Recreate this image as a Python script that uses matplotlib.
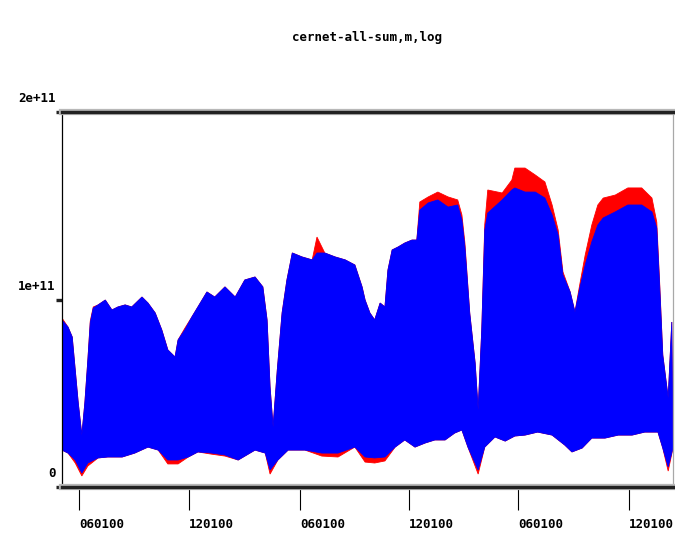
import numpy as np
import matplotlib
matplotlib.use("Agg")
import matplotlib.pyplot as plt
import matplotlib.font_manager as fm
import matplotlib.patheffects as pe
from matplotlib.transforms import ScaledTranslation

# ---------------- data (values in units of 1e9) ----------------
title = "cernet-all-sum,m,log"

# upper envelope sample days
upper_days = [0, 10, 17, 22, 27, 33, 38, 43, 47, 52, 60, 72, 83, 93, 105, 116, 133, 143,
              155, 166, 176, 188, 193, 204, 216, 226, 241, 254, 271, 288, 304, 321, 334,
              341, 346, 351, 358, 366, 374, 383, 399, 416, 424, 437, 454, 471, 487, 499,
              504, 512, 520, 529, 537, 542, 549, 559, 570, 582, 590, 595, 609, 625, 642,
              658, 665, 670, 678, 687, 692, 698, 703, 708, 732, 748, 753, 770, 787, 803,
              815, 825, 833, 845, 853, 861, 870, 881, 891, 900, 920, 941, 964, 981, 989,
              994, 999, 1008, 1014]
# blue (average) upper envelope
blue_high = [89.1, 85.3, 80.0, 62.4, 44.8, 27.7, 44.8, 67.7, 87.5, 95.5, 97.1, 99.7, 94.4,
             96.0, 97.1, 96.0, 101.3, 98.1, 92.8, 83.7, 73.1, 69.3, 78.4, 83.7, 90.7, 96.0,
             104.0, 101.3, 106.7, 101.3, 110.4, 112.0, 106.7, 89.1, 53.3, 32.0, 62.4, 92.8,
             110.4, 124.8, 122.7, 121.1, 124.8, 124.8, 122.7, 121.1, 118.4, 106.7, 99.7,
             92.8, 89.1, 98.1, 96.0, 115.7, 126.4, 128.0, 130.1, 131.7, 131.7, 147.7, 151.5,
             153.1, 149.3, 150.4, 142.4, 128.0, 92.8, 66.1, 41.1, 83.7, 137.1, 146.1, 153.1,
             158.4, 159.5, 157.3, 157.3, 154.1, 145.1, 134.4, 113.1, 104.0, 93.3, 106.1,
             118.4, 130.7, 139.7, 143.5, 146.7, 150.4, 150.4, 146.7, 138.1, 106.1, 70.4,
             47.5, 88.0]
# red (max) upper envelope
red_high = [90.1, 85.3, 80.0, 62.4, 44.8, 27.7, 44.8, 67.7, 88.5, 96.0, 97.1, 99.7, 94.4,
            96.0, 97.1, 96.0, 101.3, 98.1, 92.8, 83.7, 73.1, 69.3, 78.4, 84.5, 90.7, 96.0,
            104.0, 101.3, 106.7, 101.3, 110.4, 112.0, 106.7, 89.1, 53.3, 32.0, 62.4, 92.8,
            110.4, 124.8, 122.7, 121.1, 133.3, 124.8, 122.7, 121.1, 118.4, 106.7, 99.7,
            92.8, 89.1, 98.1, 96.0, 115.7, 126.4, 128.0, 130.1, 131.7, 131.7, 152.0, 154.7,
            157.3, 154.7, 153.1, 145.1, 130.0, 92.8, 66.1, 41.1, 83.7, 140.0, 158.4, 156.8,
            163.7, 170.1, 170.1, 166.4, 162.7, 150.4, 137.1, 114.7, 104.0, 93.3, 108.0,
            123.7, 139.7, 150.4, 154.1, 155.7, 159.5, 159.5, 154.1, 141.3, 107.7, 70.4,
            47.5, 88.0]

# lower envelope sample days
lower_days = [0, 10, 22, 33, 43, 60, 76, 100, 121, 143, 160, 176, 193, 210, 226, 249, 271,
              293, 321, 338, 346, 359, 376, 404, 432, 459, 487, 504, 520, 537, 554, 570, 587,
              604, 620, 637, 653, 665, 675, 692, 703, 720, 737, 753, 770, 791, 815, 836, 848,
              865, 881, 903, 925, 948, 969, 991, 999, 1008, 1016]
blue_low = [19.7, 18.1, 14.4, 7.5, 12.8, 15.5, 16.0, 16.0, 18.1, 21.3, 19.7, 14.4, 14.4,
            16.0, 18.7, 18.1, 17.1, 14.4, 19.7, 18.1, 9.1, 14.4, 19.7, 19.7, 18.1, 18.1,
            21.3, 16.0, 15.5, 16.0, 21.3, 25.1, 21.3, 23.5, 25.1, 25.1, 28.8, 30.4, 21.3,
            9.1, 21.3, 26.7, 24.5, 27.2, 27.7, 29.3, 27.7, 22.4, 18.7, 20.8, 26.1, 26.1,
            27.7, 27.7, 29.3, 29.3, 20.8, 10.7, 20.8]
red_low = [19.7, 18.1, 12.8, 5.9, 11.2, 15.5, 16.0, 16.0, 18.1, 21.3, 19.7, 12.3, 12.3,
           16.0, 18.7, 17.5, 16.5, 14.4, 19.7, 18.1, 6.9, 14.4, 19.7, 19.7, 16.5, 16.0,
           21.3, 13.3, 12.8, 13.9, 21.3, 25.1, 21.3, 23.5, 25.1, 25.1, 28.8, 30.4, 21.3,
           6.9, 21.3, 26.7, 24.5, 27.2, 27.7, 29.3, 27.7, 22.4, 18.7, 20.8, 26.1, 26.1,
           27.7, 27.7, 29.3, 29.3, 20.8, 8.5, 20.8]

tick_days = [28, 211, 396, 577, 758, 943]
tick_labels = ["060100", "120100", "060100", "120100", "060100", "120100"]
ytick_vals = [0, 1e11, 2e11]
ytick_labels = ["0", "1e+11", "2e+11"]

SCALE = 1e9

# ---------------- font ----------------
FONT, FS, FW = "DejaVu Sans Mono", 9, "bold"
plt.rcParams["font.family"] = [FONT, "DejaVu Sans"]

# ---------------- figure ----------------
fig = plt.figure(figsize=(6.75, 5.5), dpi=100)
L, R, B, T = 62 / 675, 673 / 675, (550 - 487) / 550, (550 - 112) / 550
ax = fig.add_axes([L, B, R - L, T - B])

ud = np.array(upper_days, float)
ld = np.array(lower_days, float)
xs = np.concatenate([ud, ld[::-1]])

ax.fill(xs, np.concatenate([np.array(red_high), np.array(red_low)[::-1]]) * SCALE,
        color="#ff0000", lw=0.6, zorder=2)
ax.fill(xs, np.concatenate([np.array(blue_high), np.array(blue_low)[::-1]]) * SCALE,
        color="#0000ff", lw=0.6, zorder=3)

ax.set_xlim(0, 1016)
ax.set_ylim(0, 2e11)

# spines
for s in ("top", "bottom"):
    ax.spines[s].set_linewidth(2.4)
    ax.spines[s].set_color("#222222")
    ax.spines[s].set_path_effects([pe.withStroke(linewidth=4.5, foreground="#b8b8b8")])
ax.spines["left"].set_linewidth(0.9)
ax.spines["left"].set_color("black")
ax.spines["right"].set_linewidth(0.9)
ax.spines["right"].set_color("#a8a8a8")
for s in ax.spines.values():
    s.set_zorder(5)

# ticks
ax.set_xticks(tick_days)
ax.set_xticklabels(tick_labels)
ax.set_yticks(ytick_vals)
ax.set_yticklabels(ytick_labels)
ax.tick_params(axis="x", direction="out", length=16.5, width=0.8, color="black",
               pad=6, labelsize=FS, labelcolor="black")
ax.tick_params(axis="y", direction="out", length=4.3, width=2.4, color="#222222",
               pad=0.5, labelsize=FS, labelcolor="black")
plt.setp(ax.get_xticklabels(), ha="left", fontweight=FW)
plt.setp(ax.get_yticklabels(), va="bottom", fontweight=FW)
off = ScaledTranslation(0, 5 / 72, fig.dpi_scale_trans)
for lab in ax.get_yticklabels():
    lab.set_transform(lab.get_transform() + off)

fig.text(367.5 / 675, 1 - 37 / 550, title, ha="center", va="center", fontsize=FS,
         fontweight=FW, color="black")

fig.savefig("out.png", dpi=100)
